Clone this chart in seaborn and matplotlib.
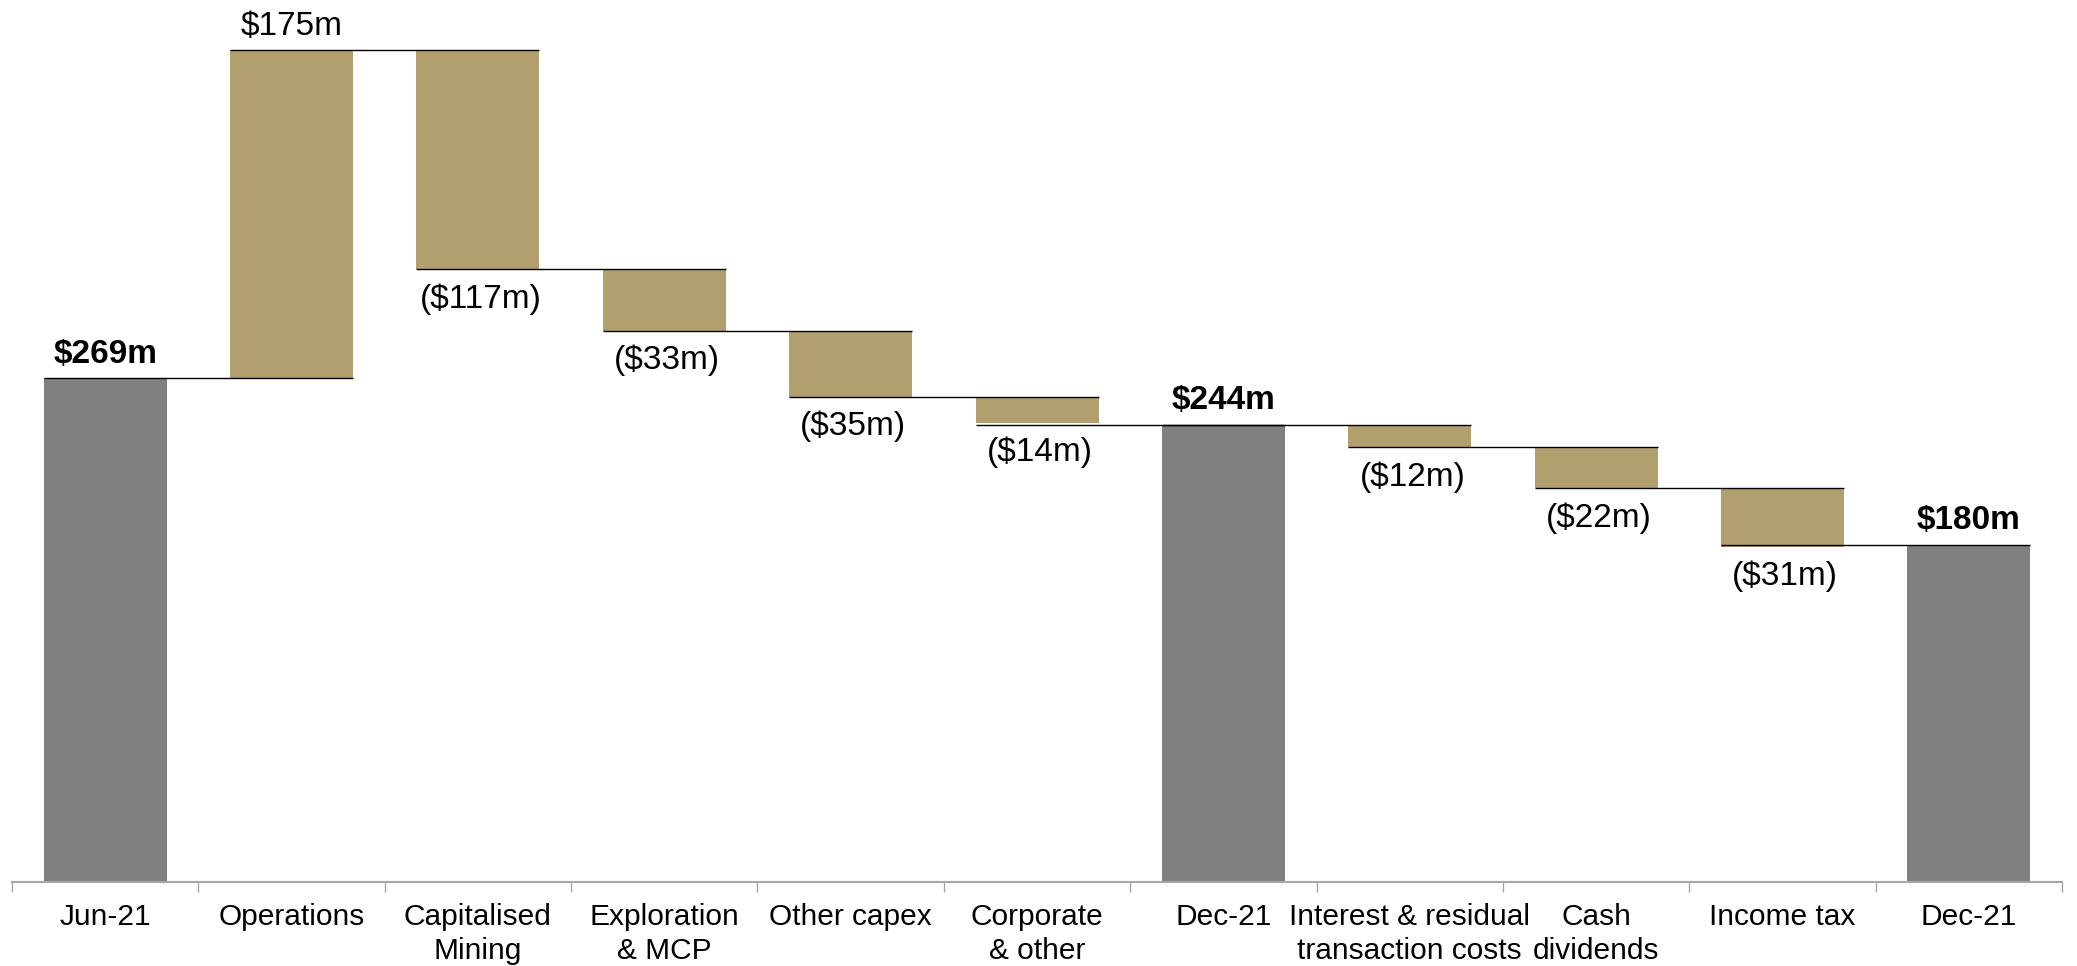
import matplotlib
matplotlib.use("Agg")
import matplotlib.pyplot as plt
import seaborn as sns
import pandas as pd
import numpy as np

# Cash movement steps, Jun-21 to Dec-21 (US$ millions)
step_ids = ["jun21", "operations", "cap_mining", "exploration", "other_capex",
            "corporate", "dec21_a", "interest", "dividends", "income_tax", "dec21_b"]
tick_labels = ["Jun-21", "Operations", "Capitalised\nMining", "Exploration\n& MCP",
               "Other capex", "Corporate\n& other", "Dec-21",
               "Interest & residual\ntransaction costs", "Cash\ndividends",
               "Income tax", "Dec-21"]
step_values = [269, 175, -117, -33, -35, -14, 244, -12, -22, -31, 180]
is_total = [True, False, False, False, False, False, True, False, False, False, True]
value_labels = ["$269m", "$175m", "($117m)", "($33m)", "($35m)", "($14m)", "$244m",
                "($12m)", "($22m)", "($31m)", "$180m"]

TOTAL_COLOR = "#808080"
DELTA_COLOR = "#B1A06E"
BAR_WIDTH = 0.66

# Floating bar geometry: totals start at zero, changes start where the previous bar ended
bases, tops, ends = [], [], []
level = 0.0
for v, tot in zip(step_values, is_total):
    if tot:
        b, t = 0.0, float(v)
        level = float(v)
    else:
        b, t = level, level + v
        level = t
    bases.append(min(b, t))
    tops.append(max(b, t))
    ends.append(level)

df = pd.DataFrame({
    "step": step_ids,
    "base": bases,
    "height": np.array(tops) - np.array(bases),
    "total": is_total,
})

sns.set_theme(style="white")
plt.rcParams["font.family"] = ["Liberation Sans", "DejaVu Sans"]

fig = plt.figure(figsize=(20.77, 9.66), dpi=100)
ax = fig.add_axes([12 / 2077, 84 / 966, 2050 / 2077, 882 / 966])

for flag, color in [(True, TOTAL_COLOR), (False, DELTA_COLOR)]:
    sub = df[df["total"] == flag]
    sns.barplot(data=sub, x="step", y="height", order=step_ids, bottom=sub["base"].values,
                color=color, saturation=1, width=BAR_WIDTH, errorbar=None,
                linewidth=0, ax=ax, zorder=2)

# Connectors between consecutive bars
half = BAR_WIDTH / 2
for i in range(len(step_ids) - 1):
    lvl = step_values[i + 1] if is_total[i + 1] else ends[i]
    ax.hlines(lvl, i - half, i + 1 + half, color="black", linewidth=1.0, zorder=3)

# Value labels
for i, (lab, v, tot) in enumerate(zip(value_labels, step_values, is_total)):
    if tot or v > 0:
        ax.annotate(lab, (i, tops[i]), xytext=(0, 11), textcoords="offset points",
                    ha="center", va="baseline", fontsize=24,
                    fontweight="bold" if tot else "normal", color="black")
    else:
        ax.annotate(lab, (i, bases[i]), xytext=(2, -10), textcoords="offset points",
                    ha="center", va="top", fontsize=24, color="black")

ax.set_xlim(-0.5, len(step_ids) - 0.5)
ax.set_ylim(0, 882 / 1.874)
ax.set_xlabel("")
ax.set_ylabel("")
ax.set_yticks([])
ax.set_xticks(range(len(step_ids)))
ax.set_xticklabels(tick_labels, fontsize=21.5, linespacing=1.28, color="black")
ax.set_xticks(np.arange(-0.5, len(step_ids)), minor=True)
ax.tick_params(axis="x", which="major", length=0, pad=15)
ax.tick_params(axis="x", which="minor", length=7, width=1.0, color="#A6A6A6",
               direction="out", bottom=True)
for side in ["top", "right", "left"]:
    ax.spines[side].set_visible(False)
ax.spines["bottom"].set_color("#A6A6A6")
ax.spines["bottom"].set_linewidth(1.5)
ax.set_facecolor("white")

fig.savefig("out.png", dpi=100, facecolor="white")
